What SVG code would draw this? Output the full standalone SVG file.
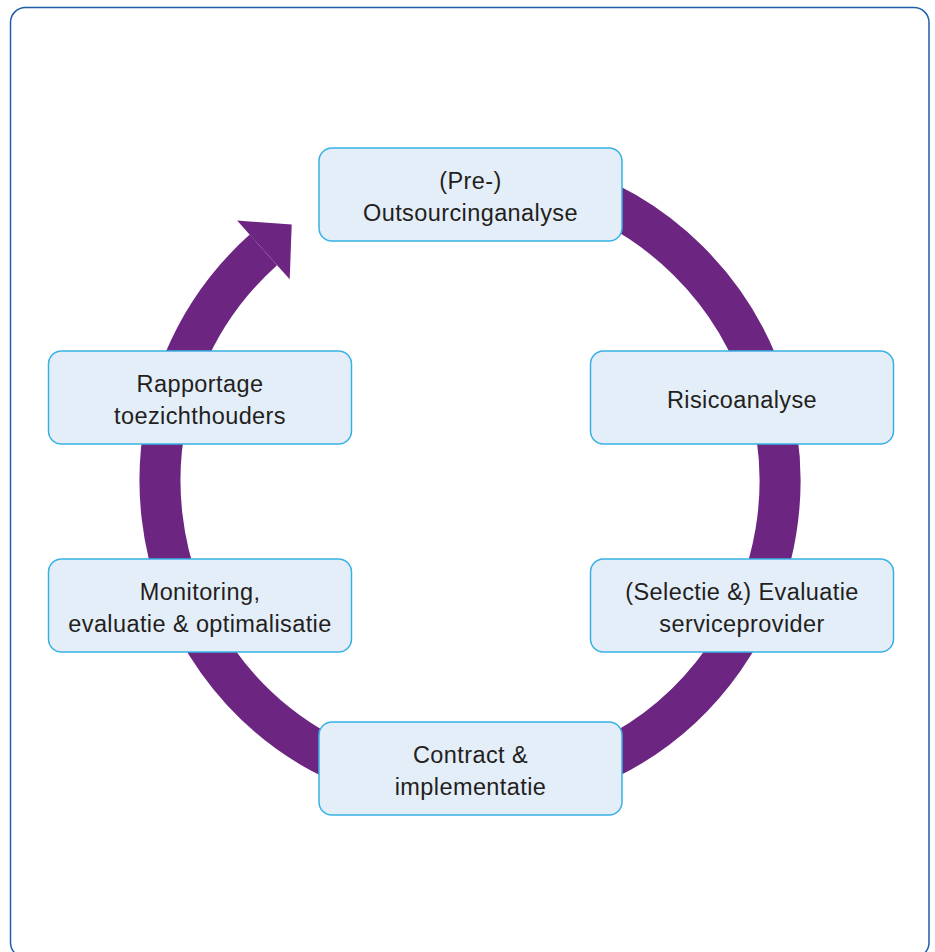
<svg xmlns="http://www.w3.org/2000/svg" width="935" height="952" viewBox="0 0 935 952">
  <style>
    .box { fill: #e3eef9; stroke: #39b1e4; stroke-width: 1.5; }
    .lbl { font-family: "Liberation Sans", Arial, sans-serif; font-size: 23.5px; letter-spacing: 0.4px; fill: #231f20; text-anchor: middle; }
    .ring { fill: none; stroke: #6c2581; stroke-width: 41; }
  </style>
  <rect x="10.5" y="7.5" width="918.5" height="950" rx="15" ry="15" fill="#ffffff" stroke="#1f5ea8" stroke-width="1.5"/>
  <g id="connectors">
    <path class="ring" d="M 416.2 175.7 A 310 310 0 1 1 263.4 249.9"/>
    <polygon points="237.1,220.6 291.7,224.6 289.7,279.2" fill="#6c2581"/>
  </g>
  <g id="n-outsourcing">
    <rect class="box" x="319" y="148" width="303" height="93" rx="13" ry="13"/>
    <text class="lbl" x="470.5" y="189">(Pre-)</text>
    <text class="lbl" x="470.5" y="221">Outsourcinganalyse</text>
  </g>
  <g id="n-risico">
    <rect class="box" x="590.5" y="351" width="303" height="93" rx="13" ry="13"/>
    <text class="lbl" x="742" y="408">Risicoanalyse</text>
  </g>
  <g id="n-selectie">
    <rect class="box" x="590.5" y="559" width="303" height="93" rx="13" ry="13"/>
    <text class="lbl" x="742" y="600">(Selectie &amp;) Evaluatie</text>
    <text class="lbl" x="742" y="632">serviceprovider</text>
  </g>
  <g id="n-contract">
    <rect class="box" x="319" y="722" width="303" height="93" rx="13" ry="13"/>
    <text class="lbl" x="470.5" y="763">Contract &amp;</text>
    <text class="lbl" x="470.5" y="795">implementatie</text>
  </g>
  <g id="n-monitoring">
    <rect class="box" x="48.5" y="559" width="303" height="93" rx="13" ry="13"/>
    <text class="lbl" x="200" y="600">Monitoring,</text>
    <text class="lbl" x="200" y="632">evaluatie &amp; optimalisatie</text>
  </g>
  <g id="n-rapportage">
    <rect class="box" x="48.5" y="351" width="303" height="93" rx="13" ry="13"/>
    <text class="lbl" x="200" y="392">Rapportage</text>
    <text class="lbl" x="200" y="424">toezichthouders</text>
  </g>
</svg>
